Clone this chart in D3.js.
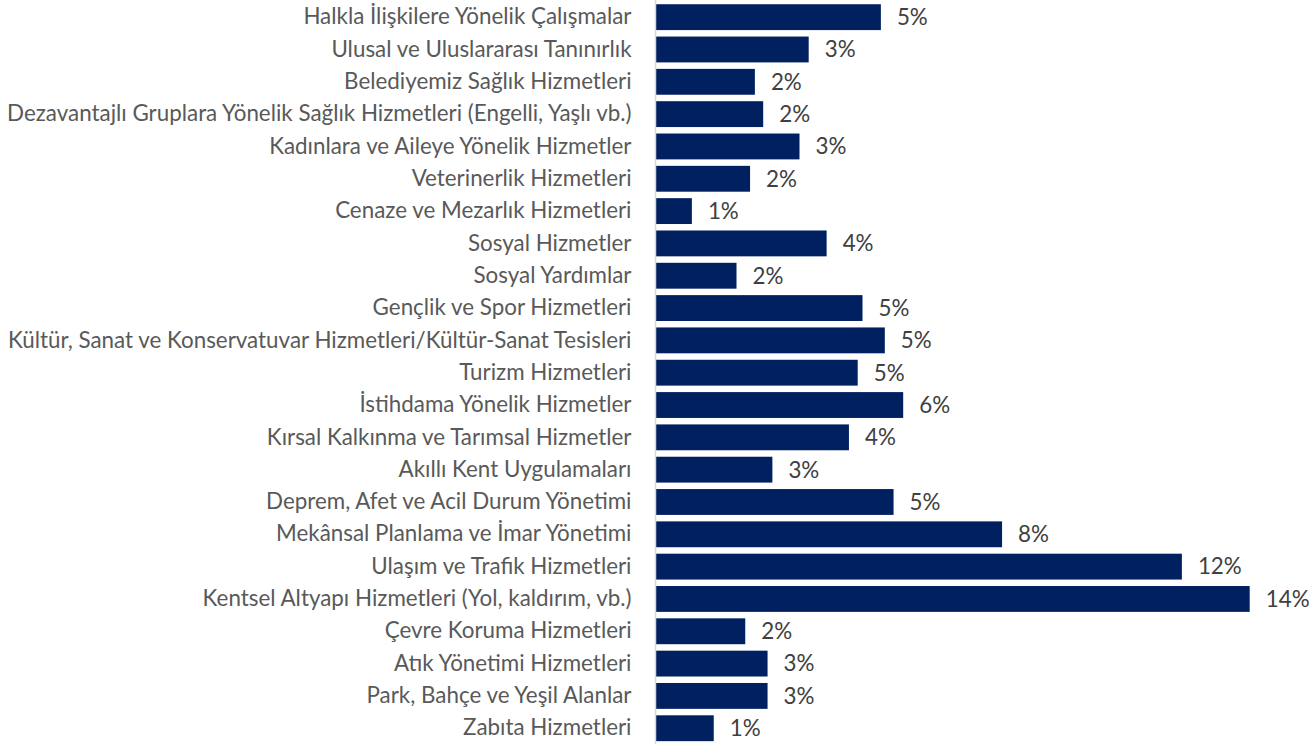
<!DOCTYPE html>
<html>
<head>
<meta charset="utf-8">
<script src="https://cdn.jsdelivr.net/npm/d3@7"></script>
<style>
  body { margin: 0; background: #fff; }
  svg { display: block; }
</style>
</head>
<body>
<script>
// categories, top to bottom
var categories = [
  "Halkla İlişkilere Yönelik Çalışmalar",
  "Ulusal ve Uluslararası Tanınırlık",
  "Belediyemiz Sağlık Hizmetleri",
  "Dezavantajlı Gruplara Yönelik Sağlık Hizmetleri (Engelli, Yaşlı vb.)",
  "Kadınlara ve Aileye Yönelik Hizmetler",
  "Veterinerlik Hizmetleri",
  "Cenaze ve Mezarlık Hizmetleri",
  "Sosyal Hizmetler",
  "Sosyal Yardımlar",
  "Gençlik ve Spor Hizmetleri",
  "Kültür, Sanat ve Konservatuvar Hizmetleri/Kültür-Sanat Tesisleri",
  "Turizm Hizmetleri",
  "İstihdama Yönelik Hizmetler",
  "Kırsal Kalkınma ve Tarımsal Hizmetler",
  "Akıllı Kent Uygulamaları",
  "Deprem, Afet ve Acil Durum Yönetimi",
  "Mekânsal Planlama ve İmar Yönetimi",
  "Ulaşım ve Trafik Hizmetleri",
  "Kentsel Altyapı Hizmetleri (Yol, kaldırım, vb.)",
  "Çevre Koruma Hizmetleri",
  "Atık Yönetimi Hizmetleri",
  "Park, Bahçe ve Yeşil Alanlar",
  "Zabıta Hizmetleri"
];

// percent values
var values = [
  5.14, 3.49, 2.26, 2.45, 3.28, 2.15, 0.82, 3.90, 1.84, 4.72, 5.23, 4.61,
  5.65, 4.41, 2.66, 5.43, 7.91, 12.02, 13.57, 2.04, 2.55, 2.55, 1.32
];

var width = 1314, height = 744;
var axisX = 656, pxPerPct = 43.75, xMax = 14.5;

var data = categories.map(function (c, i) { return { name: c, value: values[i] }; });

var svg = d3.select("body").append("svg")
  .attr("width", width)
  .attr("height", height);

var x = d3.scaleLinear()
  .domain([0, xMax])
  .range([axisX, axisX + xMax * pxPerPct]);

var y = d3.scaleBand()
  .domain(categories)
  .range([1, 744.4])
  .paddingInner(0.2)
  .paddingOuter(0.1);

var fontFam = "Lato, 'Open Sans', sans-serif";
var fontSize = 20;

// fit font size so the longest label spans like the reference
var probe = svg.append("text")
  .style("font-family", fontFam)
  .style("font-size", fontSize + "px")
  .text(categories[3]);
var w = probe.node().getComputedTextLength();
probe.remove();
if (w > 0) fontSize = fontSize * 625 / w;

// bars
svg.selectAll("rect.bar")
  .data(data)
  .enter().append("rect")
  .attr("class", "bar")
  .attr("x", x(0))
  .attr("y", function (d) { return y(d.name); })
  .attr("width", function (d) { return x(d.value) - x(0); })
  .attr("height", y.bandwidth())
  .attr("fill", "#002060");

// category axis
var yAxis = d3.axisLeft(y).tickSize(0).tickPadding(24);
var gy = svg.append("g")
  .attr("transform", "translate(" + (axisX - 0.5) + ",0)")
  .call(yAxis);
gy.select(".domain")
  .attr("d", "M0,0V" + height)
  .attr("stroke", "#d9d9d9")
  .attr("stroke-width", 1.5);
gy.selectAll(".tick text")
  .style("font-family", fontFam)
  .style("font-size", fontSize + "px")
  .attr("fill", "#595959");

// value labels
var fmt = d3.format(".0%");
svg.selectAll("text.val")
  .data(data)
  .enter().append("text")
  .attr("class", "val")
  .attr("x", function (d) { return x(d.value) + 16; })
  .attr("y", function (d) { return y(d.name) + y.bandwidth() / 2; })
  .attr("dy", "0.35em")
  .style("font-family", fontFam)
  .style("font-size", fontSize + "px")
  .attr("fill", "#404040")
  .text(function (d) { return fmt(d.value / 100); });
</script>
</body>
</html>
